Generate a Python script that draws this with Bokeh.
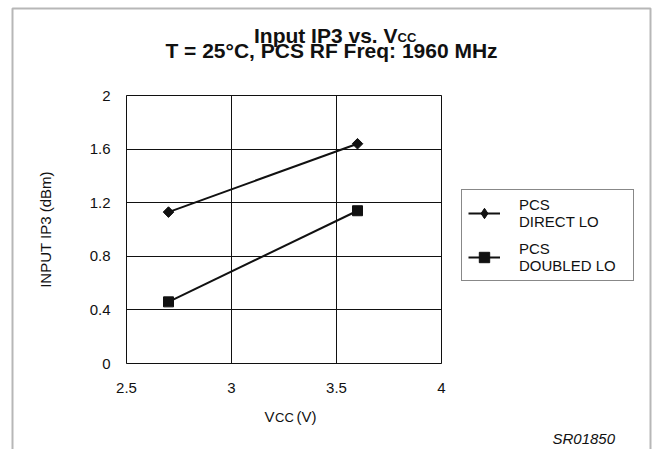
import math
from bokeh.plotting import figure
from bokeh.models import (FixedTicker, Label, Legend, LegendItem, BoxAnnotation,
                          ColumnDataSource, Range1d)
from bokeh.embed import file_html
from bokeh.resources import INLINE

# ---- data ----
vcc = [2.7, 3.6]
direct_lo = [1.13, 1.64]
doubled_lo = [0.46, 1.14]
series_names = ["PCS\nDIRECT LO", "PCS\nDOUBLED LO"]
x_ticks = [2.5, 3, 3.5, 4]
x_tick_labels = ["2.5", "3", "3.5", "4"]
y_ticks = [0, 0.4, 0.8, 1.2, 1.6, 2]
y_tick_labels = ["0", "0.4", "0.8", "1.2", "1.6", "2"]

FONT = "Liberation Sans"
INK = "#111111"
W, H = 654, 449
# plot-area placement inside the canvas (pixels)
PL, PR, PT, PB = 126, 441, 95, 363
x0, x1 = x_ticks[0], x_ticks[-1]
y0, y1 = y_ticks[0], y_ticks[-1]
kx = (x1 - x0) / (PR - PL)
ky = (y1 - y0) / (PB - PT)

p = figure(width=W, height=H,
           x_range=Range1d(x0 - PL * kx, x1 + (W - PR) * kx),
           y_range=Range1d(y0 - (H - PB) * ky, y1 + PT * ky),
           output_backend="svg", toolbar_location=None,
           min_border=0)
p.outline_line_color = None
p.background_fill_color = "white"
p.border_fill_color = "white"

for ax in (p.xaxis[0], p.yaxis[0]):
    ax.axis_line_color = None
    ax.major_tick_line_color = None
    ax.minor_tick_line_color = None
    ax.major_label_text_font = FONT
    ax.major_label_text_font_size = "15px"
    ax.major_label_text_color = INK

p.xaxis.fixed_location = y0
p.xaxis.bounds = (x0, x1)
p.xaxis.ticker = FixedTicker(ticks=x_ticks)
p.xaxis.major_label_overrides = dict(zip(x_ticks, x_tick_labels))
p.xaxis.major_label_standoff = 13
p.yaxis.fixed_location = x0
p.yaxis.bounds = (y0, y1)
p.yaxis.ticker = FixedTicker(ticks=y_ticks)
p.yaxis.major_label_overrides = dict(zip(y_ticks, y_tick_labels))
p.yaxis.major_label_standoff = 10
p.yaxis.axis_label = "INPUT IP3 (dBm)"
p.yaxis.axis_label_text_font = FONT
p.yaxis.axis_label_text_font_style = "normal"
p.yaxis.axis_label_text_font_size = "15px"
p.yaxis.axis_label_text_color = INK
p.yaxis.axis_label_standoff = 33

p.xgrid.ticker = FixedTicker(ticks=x_ticks)
p.ygrid.ticker = FixedTicker(ticks=y_ticks)
p.xgrid.bounds = (x0, x1)
p.ygrid.bounds = (y0, y1)
p.xgrid.cross_bounds = (y0, y1)
p.ygrid.cross_bounds = (x0, x1)
for g in (p.xgrid[0], p.ygrid[0]):
    g.grid_line_color = INK
    g.grid_line_width = 1

# plot-area box
p.add_layout(BoxAnnotation(left=x0, right=x1, bottom=y0, top=y1,
                           fill_alpha=0, line_color=INK, line_width=1))

s1 = ColumnDataSource(dict(x=vcc, y=direct_lo))
s2 = ColumnDataSource(dict(x=vcc, y=doubled_lo))
l1 = p.line("x", "y", source=s1, line_color=INK, line_width=2)
m1 = p.scatter("x", "y", source=s1, marker="square", size=7.5, angle=math.pi / 4,
               fill_color=INK, line_color=INK)
l2 = p.line("x", "y", source=s2, line_color=INK, line_width=2)
m2 = p.scatter("x", "y", source=s2, marker="square", size=10,
               fill_color=INK, line_color=INK)
# legend swatch for the diamond series (legend swatches ignore marker angle)
m1_key = p.scatter("x", "y", source=s1, marker="diamond", size=12,
                   fill_color=INK, line_color=INK, visible=False)

legend = Legend(items=[LegendItem(label=series_names[0], renderers=[l1, m1_key]),
                       LegendItem(label=series_names[1], renderers=[l2, m2])],
                location=(461, 168), border_line_color=INK, border_line_width=1,
                background_fill_color="white", background_fill_alpha=1,
                padding=6, spacing=10, margin=0, glyph_width=32, glyph_height=26,
                label_standoff=19, label_width=108,
                label_text_font=FONT, label_text_font_size="15px",
                label_text_color=INK)
p.add_layout(legend, "center")

# outer frame (screen units, canvas bottom-left origin)
p.add_layout(BoxAnnotation(left=12, right=650, top=H - 8, bottom=-20,
                           left_units="screen", right_units="screen",
                           top_units="screen", bottom_units="screen",
                           fill_alpha=0, line_color=INK, line_width=2))

def lab(text, x, y, size, style="normal", align="left"):
    # x, y: page pixels (y measured from top)
    p.add_layout(Label(x=x, y=H - y, x_units="screen", y_units="screen", text=text,
                       text_font=FONT, text_font_size=size, text_font_style=style,
                       text_align=align, text_baseline="alphabetic", text_color=INK))

# title
lab("Input IP3 vs. V", 397, 34.5, "21px", "bold", "right")
lab("CC", 397, 36.5, "13px", "bold", "left")
lab("T = 25\u00b0C, PCS RF Freq: 1960 MHz", 331, 50, "21px", "bold", "center")
# x axis title
lab("V", 264, 415.5, "15px")
lab("CC", 274.5, 416.5, "13px")
lab("(V)", 296, 415.5, "15px")
# figure id
lab("SR01850", 552, 437.5, "15px", "italic")

open("out.html", "w").write(file_html(p, INLINE))
